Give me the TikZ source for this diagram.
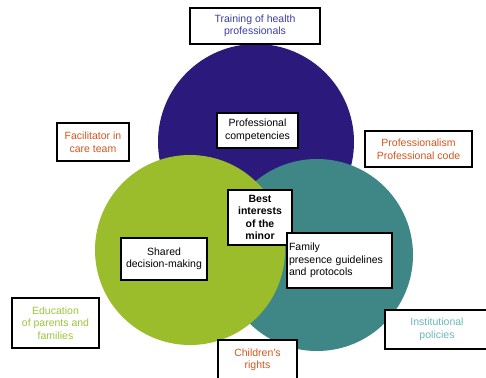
\documentclass[tikz,border=0pt]{standalone}
\usepackage{fontspec}
\setmainfont{Liberation Sans}
\definecolor{cpurple}{HTML}{2B1A7C}
\definecolor{cgreen}{HTML}{9BBD2B}
\definecolor{cteal}{HTML}{3F8787}
\definecolor{tblue}{HTML}{3B3FA5}
\definecolor{torange}{HTML}{D4561F}
\definecolor{tgreen}{HTML}{9CC73C}
\definecolor{tteal}{HTML}{6CB8BB}
\tikzset{
  lbl/.style={draw=black, line width=1.1pt, fill=white, inner sep=0pt, align=center,
    font=\fontsize{10.5}{12.5}\selectfont},
}
\begin{document}
\begin{tikzpicture}[x=1pt,y=-1pt]
\path[use as bounding box, fill=white] (0,0) rectangle (486,377);
\fill[cpurple] (256,142) circle[radius=98];
\fill[cteal] (317,255) circle[radius=96];
\fill[cgreen] (190,250) circle[radius=95];

\node[lbl, minimum width=130, minimum height=36, text=tblue] (train) at (255,26) {Training of health\\professionals};
\node[lbl, minimum width=72, minimum height=38, text=torange] (facil) at (93,142) {Facilitator in\\care team};
\node[lbl, minimum width=107, minimum height=36, text=torange] (prof) at (418.5,149) {Professionalism\\Professional code};
\node[lbl, minimum width=81, minimum height=35] (comp) at (257.5,130.5) {Professional\\competencies};
\node[lbl, minimum width=64, minimum height=55, font=\fontsize{10.5}{12.5}\selectfont\bfseries] (best) at (260,217.5) {Best\\interests\\of the\\minor};
\node[lbl, minimum width=86, minimum height=42] (shared) at (164,259) {Shared\\decision-making};
\node[lbl, minimum width=105, minimum height=55, align=left, text width=101] (family) at (339.5,260.5) {Family\\presence guidelines\\and protocols};
\node[lbl, minimum width=87, minimum height=50, text=tgreen] (edu) at (55.5,323) {Education\\of parents and\\families};
\node[lbl, minimum width=79, minimum height=40, text=torange] (child) at (257.5,360) {Children's\\rights};
\node[lbl, minimum width=104, minimum height=39, text=tteal] (inst) at (437,329.5) {Institutional\\policies};
\end{tikzpicture}
\end{document}
